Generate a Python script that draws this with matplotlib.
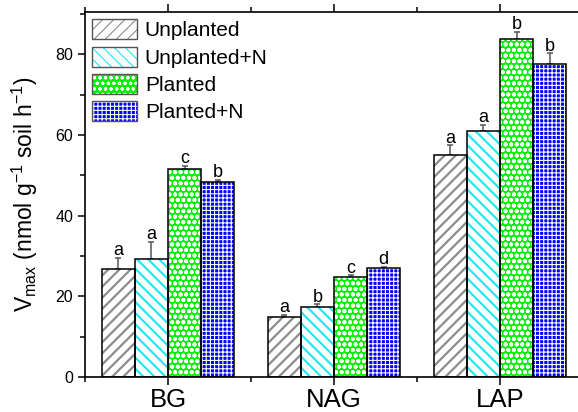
import matplotlib.pyplot as plt
import numpy as np
from matplotlib.patches import Patch
from matplotlib.legend_handler import HandlerTuple
from matplotlib.ticker import MultipleLocator

plt.rcParams['font.family'] = ['Liberation Sans', 'DejaVu Sans']
plt.rcParams['mathtext.fontset'] = 'custom'
plt.rcParams['mathtext.rm'] = 'Liberation Sans'
plt.rcParams['mathtext.it'] = 'Liberation Sans:italic'

enzymes = ['BG', 'NAG', 'LAP']
treatments = ['Unplanted', 'Unplanted+N', 'Planted', 'Planted+N']
means = {
    'Unplanted':   [26.8, 14.9, 55.1],
    'Unplanted+N': [29.3, 17.4, 61.0],
    'Planted':     [51.6, 24.9, 83.7],
    'Planted+N':   [48.3, 27.1, 77.6],
}
errors = {
    'Unplanted':   [2.8, 0.4, 2.3],
    'Unplanted+N': [4.1, 0.6, 1.4],
    'Planted':     [0.7, 0.3, 1.9],
    'Planted+N':   [0.5, 0.2, 2.6],
}
letters = {
    'Unplanted':   ['a', 'a', 'a'],
    'Unplanted+N': ['a', 'b', 'a'],
    'Planted':     ['c', 'c', 'b'],
    'Planted+N':   ['b', 'd', 'b'],
}

# face colour, hatch, hatch colour, hatch linewidth
styles = {
    'Unplanted':   ('white', '///', '#8c8c8c', 1.6),
    'Unplanted+N': ('white', '\\\\\\', '#22e8f2', 1.6),
    'Planted':     ('#00f000', 'ooo', 'white', 1.3),
    'Planted+N':   ('#0000ff', '++++', 'white', 0.8),
}

fig = plt.figure(figsize=(5.78, 4.12), dpi=100)
ax = fig.add_axes([0.147, 0.085, 0.8616, 0.886])

x = np.arange(1, len(enzymes) + 1)
w = 0.2
handles = []
for i, t in enumerate(treatments):
    fc, hatch, hc, hlw = styles[t]
    plt.rcParams['hatch.linewidth'] = hlw
    pos = x + (i - 1.5) * w
    ax.bar(pos, means[t], w, color=fc, hatch=hatch, edgecolor=hc, linewidth=0, zorder=2)
    ax.bar(pos, means[t], w, fill=False, edgecolor='black', linewidth=1.1, zorder=3)
    ax.errorbar(pos, means[t], yerr=[np.zeros(3), errors[t]], fmt='none',
                ecolor='#555555', elinewidth=1.1, capsize=2.5, capthick=1.1, zorder=1)
    for p, m, e, l in zip(pos, means[t], errors[t], letters[t]):
        ax.text(p, m + e - 0.3, l, ha='center', va='bottom', fontsize=13)
    h1 = Patch(facecolor=fc, hatch=hatch, edgecolor=hc, linewidth=0)
    h2 = Patch(fill=False, edgecolor='#555555', linewidth=1.0)
    handles.append((h1, h2))

ax.set_xlim(0.5, 3.5)
ax.set_ylim(0, 90.5)
ax.set_xticks(x)
ax.set_xticklabels(enzymes, fontsize=18.5)
ax.xaxis.set_minor_locator(MultipleLocator(0.5))
ax.yaxis.set_major_locator(MultipleLocator(20))
ax.yaxis.set_minor_locator(MultipleLocator(10))
ax.tick_params(axis='y', labelsize=11.5, direction='out', length=5, width=1.1)
ax.tick_params(axis='x', direction='out', length=6, width=1.1, pad=2)
ax.tick_params(which='minor', direction='out', length=3.5, width=1.1)
ax.tick_params(axis='x', top=True, which='both')
for s in ax.spines.values():
    s.set_linewidth(1.2)
ax.set_ylabel('V$_{\\mathrm{max}}$ (nmol g$^{-1}$ soil h$^{-1}$)', fontsize=16.5, labelpad=11)

leg = ax.legend(handles=handles, labels=treatments, loc='upper left', fontsize=15,
                frameon=False, handler_map={tuple: HandlerTuple(ndivide=1, pad=0)},
                handlelength=2.17, handleheight=1.1, borderaxespad=0.15, borderpad=0.2,
                labelspacing=0.3, handletextpad=0.35)

fig.savefig('out.png', dpi=100)
